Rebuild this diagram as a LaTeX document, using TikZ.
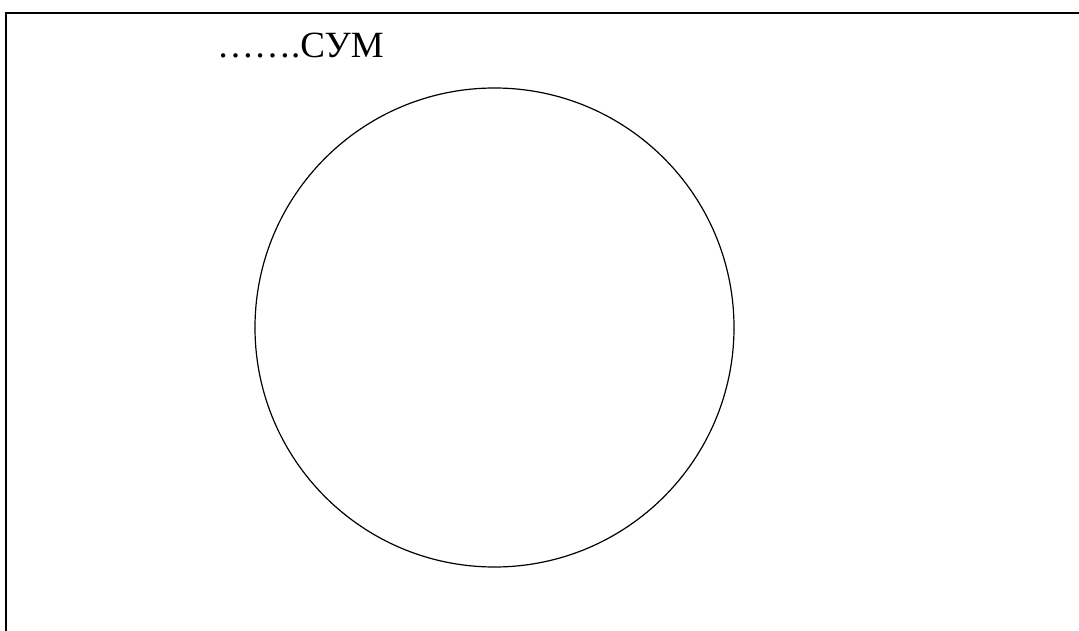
\documentclass[tikz,border=0pt]{standalone}
\usepackage{fontspec}
\setmainfont{Liberation Serif}
\begin{document}
\begin{tikzpicture}[x=1pt,y=-1pt,
  frameline/.style={line width=2pt},
  circleline/.style={line width=1.2pt},
  labeltext/.style={font=\fontsize{37}{44}\selectfont, inner sep=0pt, anchor=base west}]
\useasboundingbox (0,0) rectangle (1079,631);
\coordinate (tr) at (1079,13);
\coordinate (tl) at (6,13);
\coordinate (bl) at (6,631);
\draw[frameline] (tr) -- (tl) -- (bl);
\node[circleline, draw, circle, minimum size=479pt, inner sep=0pt] (c) at (494.5,327.5) {};
\node[labeltext] (t) at (217,58) {…….СУМ};
\end{tikzpicture}
\end{document}
